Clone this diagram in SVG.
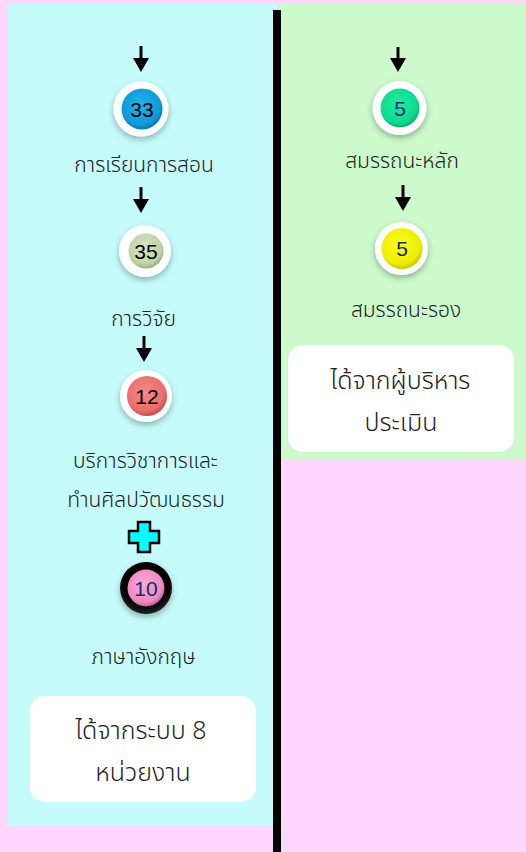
<svg xmlns="http://www.w3.org/2000/svg" width="526" height="852" viewBox="0 0 526 852">
<style>
.lbl{font-family:"Noto Sans Thai","Tahoma","DejaVu Sans","Noto Sans",sans-serif;font-size:21px;fill:#222;text-anchor:middle;font-weight:300}
.box{font-family:"Noto Sans Thai","Tahoma","DejaVu Sans","Noto Sans",sans-serif;font-size:25px;fill:#222;text-anchor:middle;font-weight:300}
.num{font-family:"Liberation Sans",Arial,sans-serif;font-size:21px;text-anchor:middle}
.ring{fill:#fff}
.arrow{stroke:#000;stroke-width:3;fill:none}
</style>
<defs>
<filter id="sh" x="-50%" y="-50%" width="200%" height="200%">
<feDropShadow dx="0" dy="3" stdDeviation="3" flood-color="#000" flood-opacity="0.3"/>
</filter>
<radialGradient id="gBlue" cx="45%" cy="40%" r="60%"><stop offset="0" stop-color="#22b3ee"/><stop offset="0.8" stop-color="#0e9ad8"/><stop offset="1" stop-color="#0a77b0"/></radialGradient>
<radialGradient id="gSage" cx="45%" cy="40%" r="60%"><stop offset="0" stop-color="#d8e6c4"/><stop offset="0.8" stop-color="#bfd3a6"/><stop offset="1" stop-color="#98ad80"/></radialGradient>
<radialGradient id="gRed" cx="45%" cy="40%" r="60%"><stop offset="0" stop-color="#f48a86"/><stop offset="0.8" stop-color="#ea6d6a"/><stop offset="1" stop-color="#c74a4a"/></radialGradient>
<radialGradient id="gPink" cx="45%" cy="40%" r="60%"><stop offset="0" stop-color="#f9a9d6"/><stop offset="0.8" stop-color="#f08ac4"/><stop offset="1" stop-color="#c9609e"/></radialGradient>
<radialGradient id="gGreen" cx="45%" cy="40%" r="60%"><stop offset="0" stop-color="#1ef0a4"/><stop offset="0.8" stop-color="#0fd98e"/><stop offset="1" stop-color="#09b070"/></radialGradient>
<radialGradient id="gYellow" cx="45%" cy="40%" r="60%"><stop offset="0" stop-color="#fbfb20"/><stop offset="0.8" stop-color="#eeee00"/><stop offset="1" stop-color="#c8c800"/></radialGradient>
<radialGradient id="gBlack" cx="50%" cy="40%" r="55%"><stop offset="0.8" stop-color="#000"/><stop offset="1" stop-color="#1a1a1a"/></radialGradient>
</defs>

<rect x="0" y="0" width="526" height="852" fill="#fdd7fd"/>
<rect x="8" y="4" width="269" height="822" fill="#c6fbfb"/>
<rect x="280" y="4" width="246" height="456" fill="#ccfacc"/>
<rect x="273" y="10" width="8" height="842" fill="#000"/>

<g id="connectors">
<line x1="141" y1="46" x2="141" y2="60" class="arrow"/><path d="M133,58 L149,58 L141,72 Z"/>
<line x1="141" y1="187" x2="141" y2="201" class="arrow"/><path d="M133,199 L149,199 L141,213 Z"/>
<line x1="144" y1="336" x2="144" y2="350" class="arrow"/><path d="M136,348 L152,348 L144,362 Z"/>
<line x1="398" y1="47" x2="398" y2="60" class="arrow"/><path d="M390,58 L406,58 L398,72 Z"/>
<line x1="403" y1="185" x2="403" y2="198" class="arrow"/><path d="M395,197 L411,197 L403,211 Z"/>
</g>

<g id="n33">
<circle cx="141" cy="109" r="27.5" class="ring" filter="url(#sh)"/>
<circle cx="142" cy="109" r="20.5" fill="url(#gBlue)"/>
<text x="142" y="116.5" class="num" fill="#000">33</text>
<text x="144" y="172" class="lbl">การเรียนการสอน</text>
</g>
<g id="n35">
<circle cx="145" cy="251" r="26" class="ring" filter="url(#sh)"/>
<circle cx="146" cy="251" r="17.5" fill="url(#gSage)"/>
<text x="146" y="258.5" class="num" fill="#000">35</text>
<text x="143.5" y="326" class="lbl">การวิจัย</text>
</g>
<g id="n12">
<circle cx="146" cy="396" r="26" class="ring" filter="url(#sh)"/>
<circle cx="147" cy="396" r="20" fill="url(#gRed)"/>
<text x="147" y="403.5" class="num" fill="#000">12</text>
<text x="145.5" y="468" class="lbl">บริการวิชาการและ</text>
<text x="146" y="507" class="lbl">ทำนศิลปวัฒนธรรม</text>
</g>
<g id="plus">
<path d="M138,522 L150,522 L150,531 L159,531 L159,543 L150,543 L150,552 L138,552 L138,543 L129,543 L129,531 L138,531 Z" fill="#00ffff" stroke="#000" stroke-width="2.5" stroke-linejoin="miter"/>
</g>
<g id="n10">
<circle cx="146" cy="588" r="26" fill="url(#gBlack)" filter="url(#sh)"/>
<circle cx="146" cy="588" r="18.5" fill="url(#gPink)"/>
<text x="146" y="595.5" class="num" fill="#1a2a6c">10</text>
<text x="143.5" y="664" class="lbl">ภาษาอังกฤษ</text>
</g>
<g id="box1">
<rect x="30" y="696" width="226" height="106" rx="15" fill="#fff"/>
<text x="141" y="739" class="box">ได้จากระบบ 8</text>
<text x="143" y="781" class="box">หน่วยงาน</text>
</g>

<g id="n5a">
<circle cx="399.5" cy="108" r="27" class="ring" filter="url(#sh)"/>
<circle cx="400" cy="108" r="19.5" fill="url(#gGreen)"/>
<text x="400" y="115.5" class="num" fill="#1a2a6c">5</text>
<text x="402" y="168" class="lbl">สมรรถนะหลัก</text>
</g>
<g id="n5b">
<circle cx="401.5" cy="248.5" r="26.5" class="ring" filter="url(#sh)"/>
<circle cx="402" cy="248.5" r="20.5" fill="url(#gYellow)"/>
<text x="402" y="256" class="num" fill="#1a2a6c">5</text>
<text x="406" y="317" class="lbl">สมรรถนะรอง</text>
</g>
<g id="box2">
<rect x="288" y="345" width="226" height="107" rx="15" fill="#fff"/>
<text x="400.5" y="389" class="box">ได้จากผู้บริหาร</text>
<text x="401" y="431" class="box">ประเมิน</text>
</g>
</svg>
